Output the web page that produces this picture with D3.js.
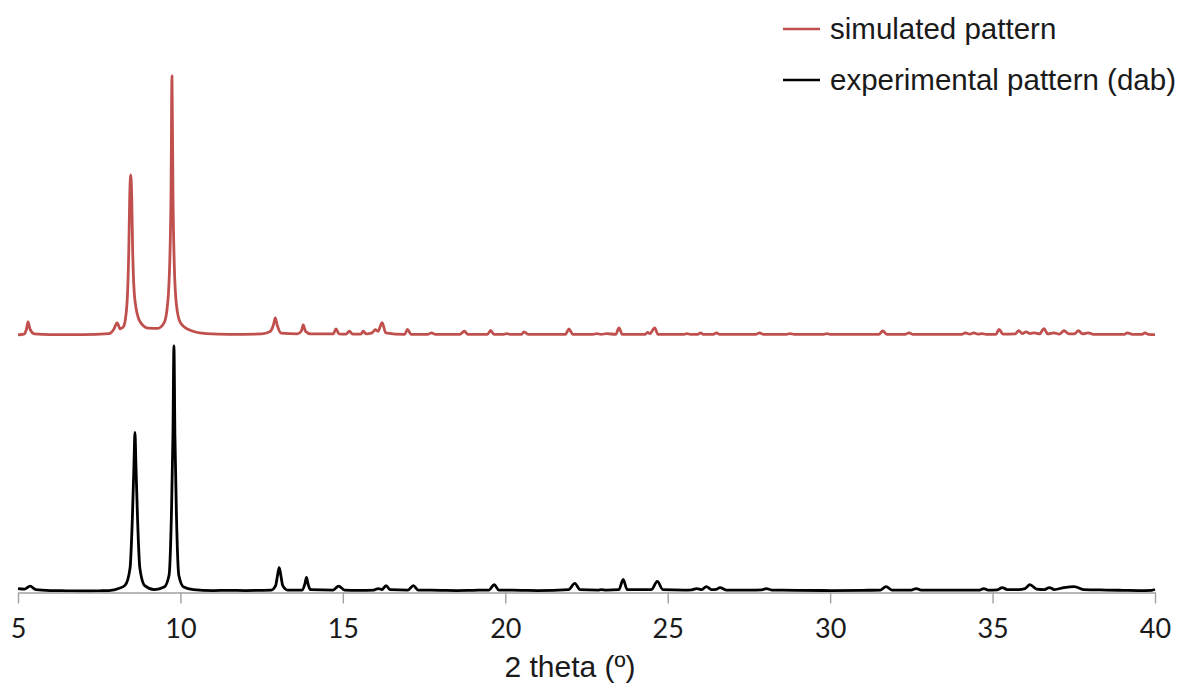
<!DOCTYPE html>
<html>
<head>
<meta charset="utf-8">
<script src="https://cdn.jsdelivr.net/npm/d3@7/dist/d3.min.js"></script>
<style>
  html, body { margin: 0; padding: 0; background: #ffffff; }
  svg { display: block; }
</style>
</head>
<body>
<svg id="chart" width="1179" height="691"></svg>
<script>
// ---------------- DATA ----------------
// x axis ticks
const xTicks = [5, 10, 15, 20, 25, 30, 35, 40];
const xLabel = "2 theta (º)";
const seriesNames = ["simulated pattern", "experimental pattern (dab)"];

// simulated pattern: 2θ (°) and relative intensity (%)
const simTheta = [
  5.0, 5.2, 5.26, 5.31, 5.37, 5.5, 6.0, 7.0, 7.8, 7.95, 8.05, 8.15, 8.25, 8.35, 8.41, 8.44, 8.47, 8.5, 8.53, 8.6, 8.75,
  9.0, 9.3, 9.5, 9.6, 9.67, 9.71, 9.74, 9.77, 9.81, 9.88, 10.0, 10.3, 10.8, 11.5, 12.5, 12.75, 12.86, 12.92, 12.98, 13.1,
  13.6, 13.72, 13.78, 13.85, 14.0, 14.7, 14.79, 14.88, 15.1, 15.2, 15.3, 15.55, 15.63, 15.72, 15.9, 16.0, 16.08, 16.21, 16.32,
  16.9, 16.99, 17.1, 17.6, 17.73, 17.85, 18.6, 18.74, 18.85, 19.45, 19.55, 19.65, 19.95, 20.04, 20.15, 20.5, 20.58, 20.7,
  21.85, 21.96, 22.08, 22.7, 22.81, 22.95, 23.12, 23.4, 23.5, 23.6, 24.3, 24.38, 24.45, 24.6, 24.7, 25.5, 25.59, 25.7,
  25.92, 26.01, 26.1, 26.4, 26.5, 26.6, 27.7, 27.83, 27.95, 28.65, 28.76, 28.9, 29.8, 29.9, 30.0, 31.5, 31.62, 31.75,
  32.3, 32.43, 32.55, 34.05, 34.16, 34.3, 34.42, 34.55, 34.68, 34.8, 35.1, 35.2, 35.32, 35.7, 35.8, 35.92, 36.03, 36.15,
  36.29, 36.45, 36.58, 36.7, 36.89, 37.05, 37.2, 37.35, 37.52, 37.64, 37.77, 37.95, 38.1, 39.05, 39.15, 39.3, 39.6, 39.69,
  39.8, 40.0
];
const simIntensity = [
  0.8, 1.2, 3.0, 5.8, 3.0, 1.2, 0.9, 0.9, 1.3, 3.0, 5.4, 3.1, 4.0, 12, 33, 54, 62.1, 54, 33, 14, 6,
  3.4, 3.3, 5.5, 12, 28, 55, 100, 55, 28, 12, 5.5, 2.6, 1.3, 1.0, 1.2, 2.0, 4.5, 7.3, 4.5, 1.5,
  1.2, 2.2, 4.6, 2.2, 1.2, 1.2, 3.1, 1.2, 1.1, 2.2, 1.1, 1.1, 2.2, 1.2, 1.6, 2.8, 2.2, 5.5, 1.6,
  1.0, 2.9, 1.0, 1.0, 1.6, 1.0, 1.0, 2.2, 1.0, 1.0, 2.5, 1.0, 1.0, 1.3, 1.0, 1.0, 2.0, 1.0,
  1.0, 3.1, 1.0, 1.0, 1.3, 1.0, 1.3, 1.0, 3.5, 1.0, 1.0, 1.8, 1.3, 3.5, 1.0, 1.0, 1.3, 1.0,
  1.0, 1.6, 1.0, 1.0, 1.6, 1.0, 1.0, 1.6, 1.0, 1.0, 1.3, 1.0, 1.0, 1.3, 1.0, 1.0, 2.3, 1.0,
  1.0, 1.6, 1.0, 1.0, 1.6, 1.1, 1.6, 1.1, 1.3, 1.0, 1.0, 2.9, 1.1, 1.2, 2.4, 1.3, 2.0, 1.3,
  1.6, 1.2, 3.2, 1.2, 1.6, 1.1, 2.4, 1.2, 1.2, 2.4, 1.2, 1.6, 1.0, 1.0, 1.6, 1.0, 1.0, 1.6,
  1.0, 0.9
];

// experimental pattern: 2θ (°) and relative intensity (%)
const expTheta = [
  5.0, 5.2, 5.37, 5.55, 6.0, 6.5, 7.0, 7.5, 7.8, 8.1, 8.3, 8.45, 8.52, 8.57, 8.6, 8.63, 8.68, 8.75, 8.9,
  9.2, 9.5, 9.65, 9.72, 9.77, 9.8, 9.83, 9.88, 9.95, 10.1, 10.4, 11.0, 11.5, 12.0, 12.8, 12.93, 12.99, 13.04, 13.09, 13.15,
  13.3, 13.75, 13.83, 13.88, 13.93, 14.0, 14.7, 14.87, 15.05, 15.5, 15.95, 16.09, 16.2, 16.33, 16.45, 17.0, 17.17, 17.32,
  18.0, 18.5, 19.0, 19.5, 19.66, 19.8, 20.5, 21.0, 21.95, 22.14, 22.3, 22.85, 22.96, 23.1, 23.5, 23.63, 23.75, 24.5, 24.68,
  24.85, 25.5, 25.75, 25.89, 26.05, 26.19, 26.35, 26.5, 26.61, 26.8, 27.5, 27.9, 28.03, 28.2, 29.0, 30.0, 31.0, 31.55,
  31.72, 31.9, 32.5, 32.65, 32.8, 33.5, 34.6, 34.73, 34.86, 35.15, 35.3, 35.45, 35.8, 36.0, 36.15, 36.35, 36.6, 36.75,
  36.9, 37.2, 37.51, 37.8, 38.5, 39.0, 39.5, 39.9, 40.0
];
const expIntensity = [
  1.6, 1.4, 2.6, 1.2, 0.8, 0.7, 0.6, 0.7, 0.8, 1.6, 3.0, 10, 30, 52, 65, 52, 30, 10, 2.8,
  1.2, 2.2, 7, 30, 64, 100, 64, 30, 7, 2.2, 1.2, 0.8, 0.9, 0.8, 1.0, 2.8, 7.0, 10.1, 7.0, 2.8,
  1.0, 1.0, 3.4, 6.1, 3.4, 1.2, 1.0, 2.6, 1.0, 0.9, 1.0, 1.6, 1.2, 2.8, 1.2, 1.0, 2.8, 1.0,
  0.9, 0.8, 0.9, 1.0, 3.2, 1.0, 0.9, 0.8, 1.2, 3.7, 1.2, 1.0, 1.2, 1.0, 1.2, 5.3, 1.2, 1.2, 4.5,
  1.2, 1.0, 1.1, 1.6, 1.2, 2.4, 1.2, 1.3, 2.0, 1.0, 1.0, 1.1, 1.6, 1.0, 0.9, 0.8, 0.9, 1.0,
  2.4, 1.0, 1.0, 1.6, 1.0, 1.0, 1.0, 1.6, 1.0, 1.1, 2.0, 1.2, 1.2, 1.6, 3.2, 1.4, 1.2, 2.0,
  1.2, 2.0, 2.4, 1.2, 1.0, 0.9, 0.8, 0.9, 1.2
];

// ---------------- CHART ----------------
const svg = d3.select("#chart");

const x = d3.scaleLinear().domain([5, 40]).range([18, 1155]);
// each pattern gets its own vertical band (stacked/offset plot)
const ySim = d3.scaleLinear().domain([0, 100]).range([337, 76]);
const yExp = d3.scaleLinear().domain([0, 100]).range([592.5, 346]);

const simData = simTheta.map((t, i) => [t, simIntensity[i]]);
const expData = expTheta.map((t, i) => [t, expIntensity[i]]);

const lineSim = d3.line().x(d => x(d[0])).y(d => ySim(d[1])).curve(d3.curveMonotoneX);
const lineExp = d3.line().x(d => x(d[0])).y(d => yExp(d[1])).curve(d3.curveMonotoneX);

const colors = ["#c0504d", "#000000"];

svg.append("path").datum(simData)
  .attr("d", lineSim)
  .attr("fill", "none").attr("stroke", colors[0]).attr("stroke-width", 2.8)
  .attr("stroke-linejoin", "round");

svg.append("path").datum(expData)
  .attr("d", lineExp)
  .attr("fill", "none").attr("stroke", colors[1]).attr("stroke-width", 2.8)
  .attr("stroke-linejoin", "round");

// x axis
const axis = d3.axisBottom(x).tickValues(xTicks).tickSize(11).tickSizeOuter(0).tickPadding(15)
  .tickFormat(d3.format("d"));
const gx = svg.append("g").attr("transform", "translate(0,592.5)").call(axis);
gx.select(".domain").attr("stroke", "#a0a0a0").attr("stroke-width", 1.4);
gx.selectAll(".tick line").attr("stroke", "#a0a0a0").attr("stroke-width", 1.4);
gx.selectAll(".tick text")
  .attr("fill", "#1a1a1a")
  .style("font-family", "Lato, 'Open Sans', sans-serif")
  .style("font-size", "27px");

svg.append("text")
  .attr("x", 570).attr("y", 677)
  .attr("text-anchor", "middle")
  .style("font-family", "'Liberation Sans', Arial, sans-serif")
  .style("font-size", "30px")
  .attr("fill", "#1a1a1a")
  .text(xLabel);

// legend
const legend = svg.append("g");
seriesNames.forEach((name, i) => {
  const ly = 29 + i * 51;
  legend.append("line")
    .attr("x1", 783).attr("x2", 820).attr("y1", ly).attr("y2", ly)
    .attr("stroke", colors[i]).attr("stroke-width", 2.6);
  legend.append("text")
    .attr("x", 830).attr("y", ly + 10)
    .style("font-family", "'Liberation Sans', Arial, sans-serif")
    .style("font-size", "29.5px")
    .attr("fill", "#1a1a1a")
    .text(name);
});
</script>
</body>
</html>
